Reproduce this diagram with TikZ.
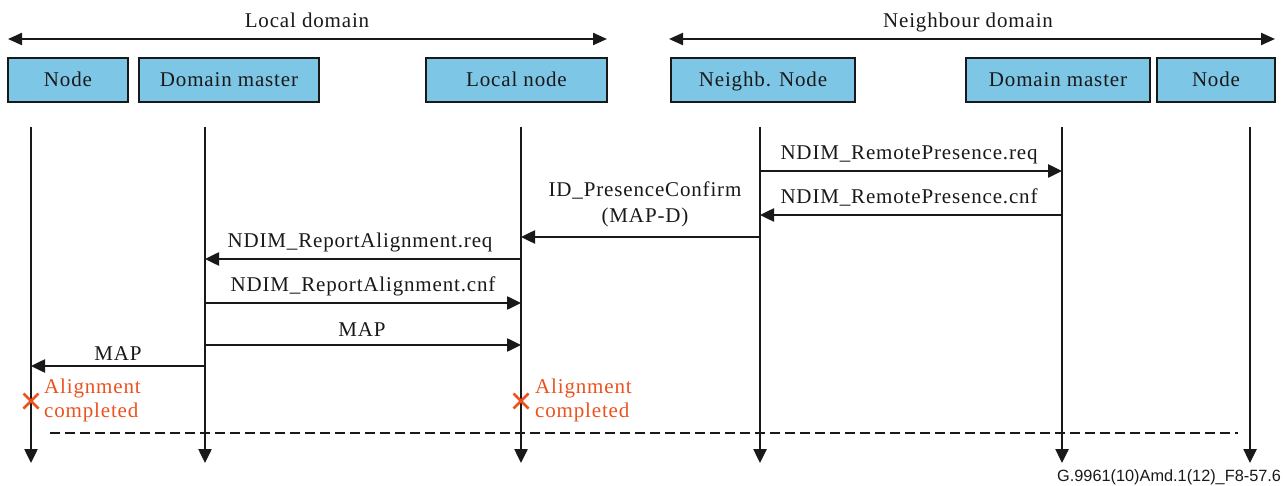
\documentclass[tikz,border=0pt]{standalone}
\usepackage{fontspec}
\setmainfont{Liberation Serif}[LetterSpace=4]
\newfontfamily\footfont{Liberation Sans}
\usetikzlibrary{arrows.meta,calc}
\definecolor{boxblue}{RGB}{125,198,230}
\definecolor{alignred}{RGB}{236,82,30}
\definecolor{ink}{RGB}{25,25,25}
\tikzset{
  lbl/.style={font=\fontsize{21}{25}\selectfont, text=ink, inner sep=0pt},
  actor/.style={draw=ink, line width=2pt, fill=boxblue, minimum height=44pt, inner sep=0pt, text height=14pt, text depth=0pt, font=\fontsize{21}{25}\selectfont, text=ink},
  tip/.style={-{Triangle[length=14pt,width=13pt]}},
  life/.style={draw=ink, line width=2.5pt, tip},
  msg/.style={draw=ink, line width=2.5pt, tip},
  dom/.style={draw=ink, line width=2.2pt, {Triangle[length=14pt,width=12pt]}-{Triangle[length=14pt,width=12pt]}},
  note/.style={font=\fontsize{21}{25}\selectfont, text=alignred, inner sep=0pt, anchor=base west},
}
\begin{document}
\begin{tikzpicture}[x=1pt,y=-1pt]
\useasboundingbox (0,0) rectangle (1285,486);
% domain arrows
\coordinate (ldl) at (8,39);  \coordinate (ldr) at (607,39);
\coordinate (ndl) at (669,39); \coordinate (ndr) at (1275,39);
\draw[dom] (ldl) -- (ldr);
\draw[dom] (ndl) -- (ndr);
\node[lbl, anchor=base] (ldt) at (307,28) {Local domain};
\node[lbl, anchor=base] (ndt) at (968,28) {Neighbour domain};
% actors
\node[actor, minimum width=120pt] (a1) at (68,80) {Node};
\node[actor, minimum width=180pt] (a2) at (229,80) {Domain master};
\node[actor, minimum width=181pt] (a3) at (516.5,80) {Local node};
\node[actor, minimum width=184pt] (a4) at (763,80) {Neighb. Node};
\node[actor, minimum width=184pt] (a5) at (1058,80) {Domain master};
\node[actor, minimum width=118pt] (a6) at (1216,80) {Node};
% lifelines
\coordinate (t1) at (31,127);   \coordinate (b1) at (31,463);
\coordinate (t2) at (205,127);  \coordinate (b2) at (205,463);
\coordinate (t3) at (521,127);  \coordinate (b3) at (521,463);
\coordinate (t4) at (760,127);  \coordinate (b4) at (760,463);
\coordinate (t5) at (1062,127); \coordinate (b5) at (1062,463);
\coordinate (t6) at (1250,127); \coordinate (b6) at (1250,463);
\foreach \i in {1,...,6} \draw[life] (t\i) -- (b\i);
% dashed line
\coordinate (dl) at (50,433); \coordinate (dr) at (1238,433);
\draw[ink, line width=2.2pt, dash pattern=on 10pt off 5pt] (dl) -- (dr);
% messages
\draw[msg] (t4 |- 0,171) -- (t5 |- 0,171);
\node[lbl, anchor=base] (m1) at (909,160) {NDIM\_RemotePresence.req};
\draw[msg] (t5 |- 0,215) -- (t4 |- 0,215);
\node[lbl, anchor=base] (m2) at (909,204) {NDIM\_RemotePresence.cnf};
\draw[msg] (t4 |- 0,237) -- (t3 |- 0,237);
\node[lbl, anchor=base] (m3a) at (645,197) {ID\_PresenceConfirm};
\node[lbl, anchor=base] (m3b) at (645,223) {(MAP-D)};
\draw[msg] (t3 |- 0,259) -- (t2 |- 0,259);
\node[lbl, anchor=base] (m4) at (360,248) {NDIM\_ReportAlignment.req};
\draw[msg] (t2 |- 0,303) -- (t3 |- 0,303);
\node[lbl, anchor=base] (m5) at (363,292) {NDIM\_ReportAlignment.cnf};
\draw[msg] (t2 |- 0,345) -- (t3 |- 0,345);
\node[lbl, anchor=base] (m6) at (362,337) {MAP};
\draw[msg] (t2 |- 0,366) -- (t1 |- 0,366);
\node[lbl, anchor=base] (m7) at (118,360) {MAP};
% alignment completed
\foreach \x/\n in {31/x1,521/x2}{
  \coordinate (\n) at (\x,401);
  \draw[alignred, line width=2.5pt] ($(\n)+(-7.5,-7.5)$) -- ($(\n)+(7.5,7.5)$) ($(\n)+(-7.5,7.5)$) -- ($(\n)+(7.5,-7.5)$);
}
\node[note] (c1a) at (44,393) {Alignment};
\node[note] (c1b) at (44,417) {completed};
\node[note] (c2a) at (535,393) {Alignment};
\node[note] (c2b) at (535,417) {completed};
% footer
\node[anchor=base west, inner sep=0pt, font=\footfont\fontsize{16.3}{19}\selectfont, text=ink] (ft) at (1057,481) {G.9961(10)Amd.1(12)\_F8-57.6};
\end{tikzpicture}
\end{document}
